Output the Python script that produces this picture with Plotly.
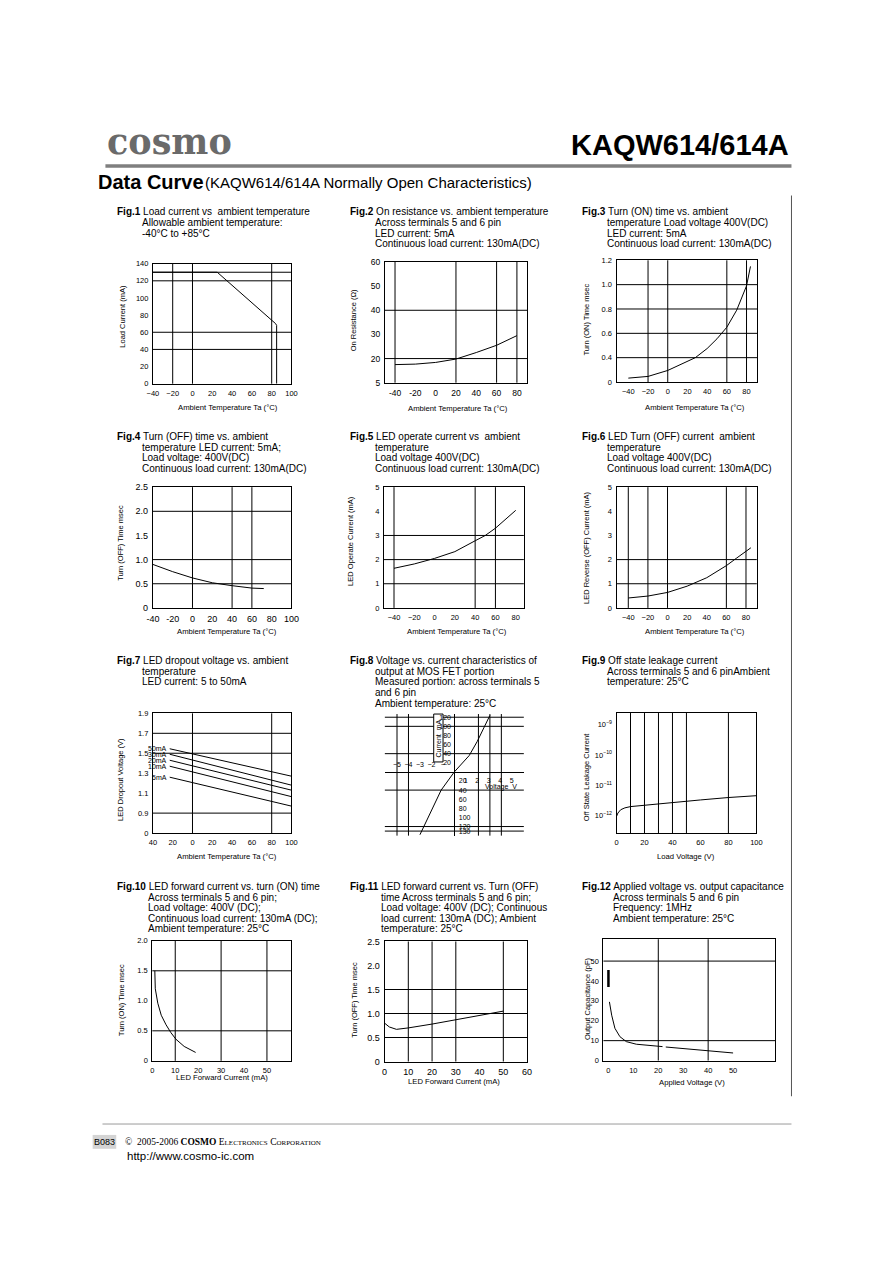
import plotly.graph_objects as go

# page is photographed at 892x1263; the browser body keeps an 8px margin,
# so the figure itself is 876x1247 and every page coordinate is offset by 8px.
PAGE_W, PAGE_H = 892, 1263
OFF = 8
W, H = PAGE_W - 2 * OFF, PAGE_H - 2 * OFF
SANS = "Liberation Sans, Arial, Helvetica, sans-serif"
SERIF = "DejaVu Serif, Liberation Serif, serif"

# ====================== DATA ======================
brand = "cosmo"
part_no = "KAQW614/614A"
page_title = "Data Curve"
page_subtitle = "(KAQW614/614A Normally Open Characteristics)"
footer_code = "B083"
footer_url = "http://www.cosmo-ic.com"

temp_label = "Ambient Temperature Ta (°C)"

# Fig.1 load current vs ambient temperature
f1_temp = [-40, 25, 84, 85, 85]
f1_current = [130, 130, 70, 68, 0]
# Fig.2 on resistance
f2_temp = [-40, -20, 0, 20, 40, 60, 80]
f2_res = [17.5, 17.7, 18.4, 19.8, 22.5, 25.5, 29.5]
# Fig.3 turn on time
f3_temp = [-40, -20, 0, 20, 28, 40, 50, 60, 70, 80, 84]
f3_time = [0.232, 0.246, 0.295, 0.37, 0.40, 0.475, 0.555, 0.65, 0.79, 0.99, 1.15]
# Fig.4 turn off time
f4_temp = [-40, -20, 0, 20, 40, 60, 72]
f4_time = [0.90, 0.75, 0.62, 0.52, 0.46, 0.41, 0.40]
# Fig.5 LED operate current
f5_temp = [-40, -20, 0, 20, 40, 50, 60, 80]
f5_current = [1.64, 1.82, 2.05, 2.33, 2.78, 3.0, 3.3, 4.04]
# Fig.6 LED turn off current
f6_temp = [-40, -20, 0, 20, 40, 60, 70, 85]
f6_current = [0.41, 0.49, 0.64, 0.90, 1.25, 1.75, 2.05, 2.49]
# Fig.7 LED dropout voltage (start at -23 C, end at 100 C)
f7_temp = [-23, 100]
f7_labels = ["50mA", "30mA", "20mA", "10mA", "5mA"]
f7_50mA = [1.545, 1.27]
f7_30mA = [1.49, 1.18]
f7_20mA = [1.43, 1.13]
f7_10mA = [1.37, 1.065]
f7_5mA = [1.26, 0.97]
# Fig.8 MOS FET V-I
f8_voltage = [-3.0, -1.15, 0, 1.3, 2.0, 3.1]
f8_current = [-138, -40, 0, 36, 67, 124]
# Fig.9 off state leakage
f9_voltage = [0, 1, 3, 6, 10, 25, 40, 50, 60, 80, 100]
f9_leak = [9.5e-13, 1.23e-12, 1.58e-12, 1.82e-12, 2.0e-12, 2.34e-12,
           2.82e-12, 3.09e-12, 3.31e-12, 3.98e-12, 4.57e-12]
# Fig.10 turn on time vs LED current
f10_if = [1.1, 1.1, 1.3, 2.4, 3.9, 6.0, 8.1, 10.3, 13.9, 18.9]
f10_time = [1.5, 1.3, 1.2, 0.96, 0.76, 0.60, 0.47, 0.36, 0.24, 0.14]
# Fig.11 turn off time vs LED current
f11_if = [0, 2, 5, 10, 20, 30, 40, 50]
f11_time = [0.80, 0.72, 0.67, 0.70, 0.78, 0.87, 0.96, 1.05]
# Fig.12 output capacitance
f12_bar_v = [0, 0]
f12_bar_c = [37, 45.5]
f12_v = [0.4, 1.3, 2.6, 4.6, 7.2, 11.2, 21.7, None, 23, 31.6, 41.4, 50]
f12_c = [29.5, 22.8, 16.2, 12.0, 9.5, 8.2, 7.0, None, 6.8, 5.8, 4.7, 3.8]

temp_ticks_a = [-40, -20, 0, 20, 40, 60, 80, 100]
temp_ticks_b = [-40, -20, 0, 20, 40, 60, 80]

captions = {
    1: ["Fig.1", "Load current vs  ambient temperature", "Allowable ambient temperature:", "-40°C to +85°C"],
    2: ["Fig.2", "On resistance vs. ambient temperature", "Across terminals 5 and 6 pin", "LED current: 5mA",
        "Continuous load current: 130mA(DC)"],
    3: ["Fig.3", "Turn (ON) time vs. ambient", "temperature Load voltage 400V(DC)", "LED current: 5mA",
        "Continuous load current: 130mA(DC)"],
    4: ["Fig.4", "Turn (OFF) time vs. ambient", "temperature LED current: 5mA;", "Load voltage: 400V(DC)",
        "Continuous load current: 130mA(DC)"],
    5: ["Fig.5", "LED operate current vs  ambient", "temperature", "Load voltage 400V(DC)",
        "Continuous load current: 130mA(DC)"],
    6: ["Fig.6", "LED Turn (OFF) current  ambient", "temperature", "Load voltage 400V(DC)",
        "Continuous load current: 130mA(DC)"],
    7: ["Fig.7", "LED dropout voltage vs. ambient", "temperature", "LED current: 5 to 50mA"],
    8: ["Fig.8", "Voltage vs. current characteristics of", "output at MOS FET portion",
        "Measured portion: across terminals 5", "and 6 pin", "Ambient temperature: 25°C"],
    9: ["Fig.9", "Off state leakage current", "Across terminals 5 and 6 pinAmbient", "temperature: 25°C"],
    10: ["Fig.10", "LED forward current vs. turn (ON) time", "Across terminals 5 and 6 pin;",
         "Load voltage: 400V (DC);", "Continuous load current: 130mA (DC);", "Ambient temperature: 25°C"],
    11: ["Fig.11", "LED forward current vs. Turn (OFF)", "time Across terminals 5 and 6 pin;",
         "Load voltage: 400V (DC); Continuous", "load current: 130mA (DC); Ambient", "temperature: 25°C"],
    12: ["Fig.12", "Applied voltage vs. output capacitance", "Across terminals 5 and 6 pin",
         "Frequency: 1MHz", "Ambient temperature: 25°C"],
}

# ====================== HELPERS ======================
def X(px):
    return (px - OFF) / W

def Y(py):
    return 1 - (py - OFF) / H

def ax_names(n):
    if n == 1:
        return "xaxis", "yaxis", "x", "y"
    return f"xaxis{n}", f"yaxis{n}", f"x{n}", f"y{n}"

fig = go.Figure()
layout_axes = {}
shapes = []
annotations = []

def line_trace(n, xs, ys, width=1.0):
    _, _, xr, yr = ax_names(n)
    fig.add_trace(go.Scatter(x=xs, y=ys, mode="lines", line=dict(color="black", width=width),
                             xaxis=xr, yaxis=yr, showlegend=False, hoverinfo="skip",
                             connectgaps=False))

def text(x, y, s, size=10, xanchor="left", angle=0, family=SANS, color="black", xref="paper", yref="paper"):
    if xref == "paper":
        x = X(x)
    if yref == "paper":
        y = Y(y)
    annotations.append(dict(x=x, y=y, xref=xref, yref=yref, text=s, showarrow=False,
                            xanchor=xanchor, yanchor="middle", textangle=angle,
                            font=dict(family=family, size=size, color=color)))

def panel(n, box, xrange, yrange, xtv, xtt, ytv, ytt, fs, vgrid, hgrid, ylog=False):
    l, t, r, b = box
    xa_name, ya_name, xr, yr = ax_names(n)
    common = dict(showgrid=False, zeroline=False, showline=True, mirror=True,
                  linecolor="black", linewidth=1, ticks="outside", ticklen=2,
                  tickcolor="rgba(0,0,0,0)", tickmode="array",
                  tickfont=dict(family=SANS, size=fs, color="black"), fixedrange=True)
    layout_axes[xa_name] = dict(domain=[X(l), X(r)], range=xrange, anchor=yr,
                                tickvals=xtv, ticktext=xtt, **common)
    ya = dict(domain=[Y(b), Y(t)], anchor=xr, tickvals=ytv, ticktext=ytt, **common)
    if ylog:
        ya["type"] = "log"
    ya["range"] = yrange
    layout_axes[ya_name] = ya
    for v in vgrid:
        shapes.append(dict(type="line", xref=xr, yref=f"{yr} domain", x0=v, x1=v, y0=0, y1=1,
                           line=dict(color="black", width=1), layer="below"))
    for h in hgrid:
        shapes.append(dict(type="line", xref=f"{xr} domain", yref=yr, x0=0, x1=1, y0=h, y1=h,
                           line=dict(color="black", width=1), layer="below"))

def ticks_text(vals, minus="−"):
    return [(minus + str(abs(v))) if v < 0 else str(v) for v in vals]

# ====================== PANELS ======================
# Fig.1
panel(1, (148.3, 260.7, 289.3, 381.7), [-40, 100], [0, 140],
      temp_ticks_a, ticks_text(temp_ticks_a), list(range(0, 141, 20)), [str(v) for v in range(0, 141, 20)],
      7.5, [-20, 0, 80], [130, 120, 60, 40])
line_trace(1, f1_temp, f1_current)

# Fig.2
panel(2, (384.3, 259, 529, 380.7), [-50, 90], [10, 60],
      temp_ticks_b, ticks_text(temp_ticks_b, "-"), [10, 20, 30, 40, 50, 60], ["5", "20", "30", "40", "50", "60"],
      8.5, [-40, 20, 60, 80], [40, 20])
line_trace(2, f2_temp, f2_res)

# Fig.3
panel(3, (620, 257.3, 763.3, 380), [-52, 91], [0.2, 1.2],
      temp_ticks_b, ticks_text(temp_ticks_b), [0.2, 0.4, 0.6, 0.8, 1.0, 1.2], ["0", "0.4", "0.6", "0.8", "1.0", "1.2"],
      7.5, [-20, 0, 60, 80], [0.4, 0.6, 0.8, 1.0])
line_trace(3, f3_temp, f3_time)

# Fig.4
panel(4, (148.3, 486, 289.3, 607.7), [-40, 100], [0, 2.5],
      temp_ticks_a, ticks_text(temp_ticks_a, "-"), [0, 0.5, 1.0, 1.5, 2.0, 2.5], ["0", "0.5", "1.0", "1.5", "2.0", "2.5"],
      9, [0, 40, 60], [0.5, 1.0, 2.0])
line_trace(4, f4_temp, f4_time)

# Fig.5
panel(5, (383.3, 486, 525.7, 607.7), [-50, 88], [0, 5],
      temp_ticks_b, ticks_text(temp_ticks_b), [0, 1, 2, 3, 4, 5], ["0", "1", "2", "3", "4", "5"],
      7.5, [-40, 40, 60], [1, 2, 3])
line_trace(5, f5_temp, f5_current)

# Fig.6
panel(6, (620, 486, 762.7, 607.7), [-52, 91], [0, 5],
      temp_ticks_b, ticks_text(temp_ticks_b), [0, 1, 2, 3, 4, 5], ["0", "1", "2", "3", "4", "5"],
      7.5, [-40, -20, 0, 60, 80], [1, 2])
line_trace(6, f6_temp, f6_current)

# Fig.7
panel(7, (148.3, 714, 289.3, 834.7), [-40, 100], [0.7, 1.9],
      temp_ticks_a, [str(abs(v)) for v in temp_ticks_a], [0.7, 0.9, 1.1, 1.3, 1.5, 1.7, 1.9],
      ["0", "0.9", "1.1", "1.3", "1.5", "1.7", "1.9"],
      7.5, [0, 80], [0.9, 1.5, 1.7])
for lab, series in zip(f7_labels, [f7_50mA, f7_30mA, f7_20mA, f7_10mA, f7_5mA]):
    line_trace(7, f7_temp, series)
    text(f7_temp[0] - 1, series[0], lab, size=7, xanchor="right", xref="x7", yref="y7")

# Fig.8 (cross axes through origin)
f8_box = (384.3, 714.7, 525.7, 837.3)
f8_center = (455, 773)
l, t, r, b = f8_box
f8_common = dict(showgrid=False, zeroline=False, fixedrange=True, ticks="outside", ticklen=2,
                 tickcolor="rgba(0,0,0,0)", tickmode="array",
                 tickfont=dict(family=SANS, size=7, color="black"))
layout_axes["xaxis8"] = dict(domain=[X(l), X(r)], range=[-6.06, 6.06], anchor="free", position=Y(f8_center[1]),
                             side="top", showline=True, linecolor="black", linewidth=1,
                             tickvals=[-5, -4, -3, -2, -1], ticktext=["−5", "−4", "−3", "−2", "−"], **f8_common)
layout_axes["yaxis8"] = dict(domain=[Y(b), Y(t)], range=[-140, 127], anchor="free", position=X(f8_center[0]),
                             side="left", showline=True, linecolor="black", linewidth=1,
                             tickvals=[20, 40, 60, 80, 100, 120, 130],
                             ticktext=["20", "40", "60", "80", "100", "120", "130"], **f8_common)
layout_axes["xaxis13"] = dict(domain=[X(l), X(r)], range=[-6.06, 6.06], anchor="free", position=Y(f8_center[1]),
                              overlaying="x8", side="bottom", showline=False,
                              tickvals=[1, 2, 3, 4, 5], ticktext=["1", "2", "3", "4", "5"], **f8_common)
layout_axes["yaxis13"] = dict(domain=[Y(b), Y(t)], range=[-140, 127], anchor="free", position=X(f8_center[0]),
                              overlaying="y8", side="right", showline=False,
                              tickvals=[-20, -40, -60, -80, -100, -120, -130],
                              ticktext=["20", "40", "60", "80", "100", "120", "130"], **f8_common)
f8_vgrid = [-5, -4, 2.1, 3.1, 4.1]
f8_hgrid = [130, 120, 100, 40, -40, -120, -130]
for v in f8_vgrid:
    shapes.append(dict(type="line", xref="x8", yref="y8 domain", x0=v, x1=v, y0=0, y1=1,
                       line=dict(color="black", width=1), layer="below"))
for h in f8_hgrid:
    shapes.append(dict(type="line", xref="x8 domain", yref="y8", x0=0, x1=1, y0=h, y1=h,
                       line=dict(color="black", width=1), layer="below"))
# boxed axis title region
shapes.append(dict(type="rect", xref="paper", yref="paper", x0=X(434), x1=X(443.5), y0=Y(763), y1=Y(714.7),
                   line=dict(color="black", width=1), fillcolor="white", layer="below"))
fig.add_trace(go.Scatter(x=f8_voltage, y=f8_current, mode="lines", line=dict(color="black", width=1),
                         xaxis="x8", yaxis="y8", showlegend=False, hoverinfo="skip"))
fig.add_trace(go.Scatter(x=[None], y=[None], mode="lines", xaxis="x13", yaxis="y13",
                         showlegend=False, hoverinfo="skip"))
text(438.8, 739, "Current  mA", size=7, xanchor="center", angle=-90)
text(484, 788, "Voltage  V", size=7)

# Fig.9
panel(9, (620, 713.7, 762.3, 834.7), [0, 100], [-12.57, -8.62],
      [0, 20, 40, 60, 80, 100], ["0", "20", "40", "60", "80", "100"],
      [1e-9, 1e-10, 1e-11, 1e-12],
      ["10<sup>−9</sup>", "10<sup>−10</sup>", "10<sup>−11</sup>", "10<sup>−12</sup>"],
      7.5, [10, 20, 30, 40, 50, 80], [], ylog=True)
line_trace(9, f9_voltage, f9_leak)

# Fig.10
panel(10, (147.7, 943.3, 289.3, 1064.3), [0, 60.7], [0, 2.0],
      [0, 10, 20, 30, 40, 50], ["0", "10", "20", "30", "40", "50"],
      [0, 0.5, 1.0, 1.5, 2.0], ["0", "0.5", "1.0", "1.5", "2.0"],
      7.5, [10, 30, 50], [0.5, 1.5])
line_trace(10, f10_if, f10_time)

# Fig.11
panel(11, (384, 944, 529, 1065), [0, 60], [0, 2.5],
      [0, 10, 20, 30, 40, 50, 60], ["0", "10", "20", "30", "40", "50", "60"],
      [0, 0.5, 1.0, 1.5, 2.0, 2.5], ["0", "0.5", "1.0", "1.5", "2.0", "2.5"],
      9, [10, 20, 30, 50], [0.5, 1.0, 1.5])
line_trace(11, f11_if, f11_time)

# Fig.12
panel(12, (606.7, 941.7, 781.7, 1064), [-2, 67], [0, 61],
      [0, 10, 20, 30, 40, 50], ["0", "10", "20", "30", "40", "50"],
      [0, 10, 20, 30, 40, 50], ["0", "10", "20", "30", "40", "50"],
      7.5, [20, 40], [10, 50])
line_trace(12, f12_bar_v, f12_bar_c, width=2.5)
line_trace(12, f12_v, f12_c)

# ====================== AXIS TITLES ======================
ytitles = [
    (117, 314, "Load Current (mA)"),
    (352.7, 318, "On Resistance (Ω)"),
    (589, 317, "Turn (ON) Time msec"),
    (116, 542, "Turn (OFF) Time msec"),
    (350, 540, "LED Operate Current (mA)"),
    (589.3, 547, "LED Reverse (OFF) Current (mA)"),
    (116, 781, "LED Dropout Voltage (V)"),
    (589.3, 778, "Off State Leakage Current"),
    (116, 1003, "Turn (ON) Time msec"),
    (352.7, 1003, "Turn (OFF) Time msec"),
    (590, 1002, "Output Capacitance (pF)"),
]
for x, y, s in ytitles:
    text(x, y, s, size=7.5, xanchor="center", angle=-90)

xtitles = [
    (225, 405.7, temp_label), (458.3, 406.7, temp_label), (700, 405.7, temp_label),
    (224, 631, temp_label), (458, 631, temp_label), (700, 631, temp_label),
    (223.3, 858, temp_label), (691, 858, "Load Voltage (V)"),
    (219, 1081, "LED Forward Current (mA)"), (455, 1085, "LED Forward Current (mA)"),
    (696.7, 1086, "Applied Voltage (V)"),
]
for x, y, s in xtitles:
    text(x, y, s, size=7.7, xanchor="center")

# ====================== CAPTIONS ======================
col_x = {0: 110, 1: 347, 2: 583}
row_y = {0: 208.5, 1: 435, 2: 661, 3: 888.5}
for n, lines in captions.items():
    c = (n - 1) % 3
    rw = (n - 1) // 3
    x0 = col_x[c]
    indent = x0 + (31 if n >= 10 else 25)
    y0 = row_y[rw]
    text(x0, y0, f"<b>{lines[0]}</b> {lines[1]}", size=10)
    for i, s in enumerate(lines[2:], start=1):
        text(indent, y0 + i * 10.7, s, size=10)

# ====================== PAGE HEADER / FOOTER ======================
text(100, 138, f"<b>{brand}</b>", size=35, family=SERIF, color="#6a6a6a")
text(798, 141, f"<b>{part_no}</b>", size=29, xanchor="right")
shapes.append(dict(type="rect", xref="paper", yref="paper", x0=X(100), x1=X(798), y0=Y(164), y1=Y(160.5),
                   fillcolor="#7f7f7f", line=dict(width=0)))
text(90, 178, f"<b>{page_title}</b>", size=20)
text(199, 179, page_subtitle, size=15)
# right frame and bottom rule
shapes.append(dict(type="line", xref="paper", yref="paper", x0=X(798), x1=X(798), y0=Y(192), y1=Y(1100),
                   line=dict(color="#555555", width=1)))
shapes.append(dict(type="line", xref="paper", yref="paper", x0=X(97), x1=X(798), y0=Y(1128), y1=Y(1128),
                   line=dict(color="#9a9a9a", width=1)))
shapes.append(dict(type="rect", xref="paper", yref="paper", x0=X(87), x1=X(111), y0=Y(1153), y1=Y(1139),
                   fillcolor="#d4d4d4", line=dict(width=0)))
text(99, 1146, footer_code, size=9, xanchor="center")
text(118, 1146, "©  2005-2006 <b>COSMO</b> E<span style='font-size:7px'>LECTRONICS</span> "
                "C<span style='font-size:7px'>ORPORATION</span>", size=9.5, family="Liberation Serif, serif")
text(120, 1160, footer_url, size=11.5)

fig.update_layout(width=W, height=H, margin=dict(l=0, r=0, t=0, b=0, pad=0),
                  paper_bgcolor="white", plot_bgcolor="white", showlegend=False,
                  shapes=shapes, annotations=annotations, **layout_axes)
fig.write_html("out.html", config={"displayModeBar": False, "staticPlot": True})
